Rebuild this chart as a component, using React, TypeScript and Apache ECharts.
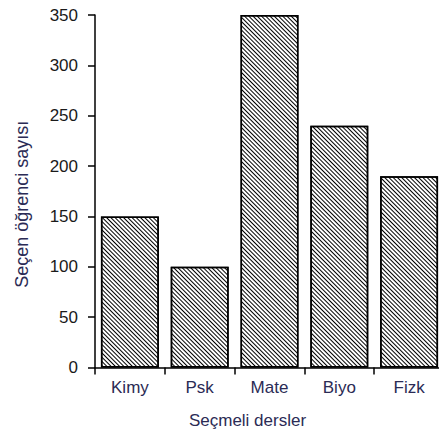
import React, { useEffect, useRef } from "react";
import * as echarts from "echarts";

const categories = ["Kimy", "Psk", "Mate", "Biyo", "Fizk"];
const values = [150, 100, 350, 240, 190];
const yTicks = { min: 0, max: 350, interval: 50 };
const xName = "Seçmeli dersler";
const yName = "Seçen öğrenci sayısı";

export default function App() {
  const ref = useRef<HTMLDivElement>(null);
  useEffect(() => {
    if (!ref.current) return;
    const chart = echarts.init(ref.current, null, { renderer: "svg" });
    const font = "Liberation Sans, Arial, sans-serif";
    chart.setOption({
      animation: false,
      backgroundColor: "#ffffff",
      grid: { left: 95, top: 15, width: 349, bottom: 78.5, containLabel: false },
      xAxis: {
        type: "category",
        data: categories,
        name: xName,
        nameLocation: "middle",
        nameGap: 44,
        nameTextStyle: { fontFamily: font, fontSize: 17, color: "#2b2b55", padding: [0, 44, 0, 0] },
        axisLine: { show: true, lineStyle: { color: "#000", width: 1.5 } },
        axisTick: { show: true, length: 7, lineStyle: { color: "#000", width: 1.5 } },
        axisLabel: { margin: 11, fontFamily: font, fontSize: 17, color: "#2b2b55" },
        splitLine: { show: false },
      },
      yAxis: {
        type: "value",
        min: yTicks.min,
        max: yTicks.max,
        interval: yTicks.interval,
        name: yName,
        nameLocation: "middle",
        nameGap: 64,
        nameRotate: 90,
        nameTextStyle: { fontFamily: font, fontSize: 18, color: "#2b2b55", padding: [0, 26, 0, 0] },
        axisLine: { show: true, lineStyle: { color: "#000", width: 1.5 } },
        axisTick: { show: true, length: 7, lineStyle: { color: "#000", width: 1.5 } },
        axisLabel: { margin: 17, fontFamily: font, fontSize: 17, color: "#1a1a1a" },
        splitLine: { show: false },
      },
      series: [
        {
          type: "bar",
          data: values,
          barCategoryGap: "17%",
          itemStyle: {
            color: "#ffffff",
            borderColor: "#000000",
            borderWidth: 1.5,
            decal: {
              symbol: "rect",
              symbolSize: 1,
              dashArrayX: [1, 0],
              dashArrayY: [1, 2],
              rotation: Math.PI / 4,
              color: "#000000",
              backgroundColor: "#ffffff",
            },
          },
        },
      ],
    });
    return () => chart.dispose();
  }, []);
  return (
    <div
      ref={ref}
      style={{ position: "fixed", left: 0, top: 0, width: 452, height: 446 }}
    />
  );
}
